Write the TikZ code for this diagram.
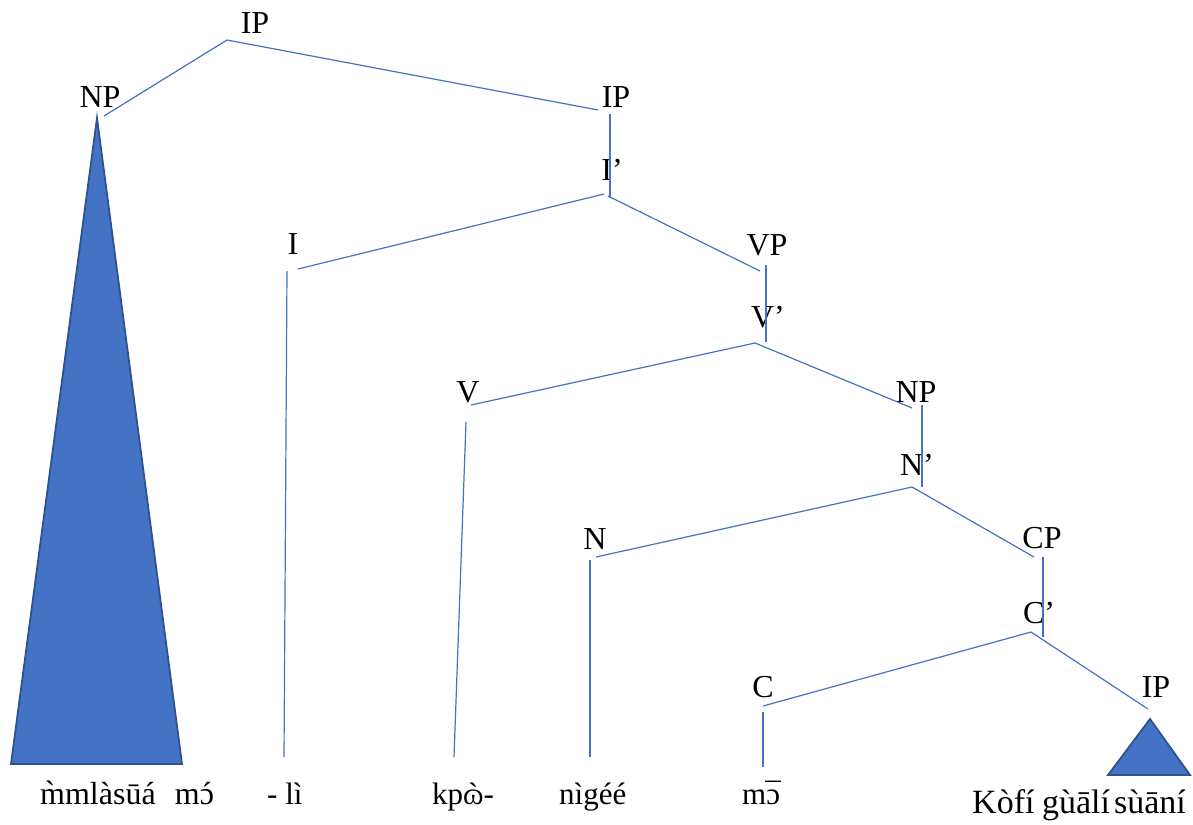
\documentclass[tikz,border=0pt]{standalone}
\usepackage{fontspec}
\setmainfont{Liberation Serif}
\definecolor{lineblue}{HTML}{4472C4}
\definecolor{edgeblue}{HTML}{2F528F}
\newcommand\accOn[2]{{\accent"#2 #1}}
\tikzset{
  lbl/.style={anchor=base, inner sep=0pt, font=\fontsize{32}{38}\selectfont},
  word/.style={anchor=base west, inner sep=0pt, font=\fontsize{31}{37}\selectfont},
  branch/.style={draw=lineblue, line width=1.2pt},
  tri/.style={fill=lineblue, draw=edgeblue, line width=1.8pt, line join=miter},
}
\begin{document}
\begin{tikzpicture}[x=1pt,y=-1pt]
\useasboundingbox (0,0) rectangle (1193,824);
% labels
\node[lbl] (ip1) at (255,34) {IP};
\node[lbl] (np1) at (100,107) {NP};
\node[lbl] (ip2) at (616,108) {IP};
\node[lbl] (ibar) at (612,180) {I’};
\node[lbl] (i) at (293,254) {I};
\node[lbl] (vp) at (767,255) {VP};
\node[lbl] (vbar) at (768,327) {V’};
\node[lbl] (v) at (468,402) {V};
\node[lbl] (np2) at (916,402) {NP};
\node[lbl] (nbar) at (917,475) {N’};
\node[lbl] (n) at (595,549) {N};
\node[lbl] (cp) at (1042,548) {CP};
\node[lbl] (cbar) at (1039,623) {C’};
\node[lbl] (c) at (763,697) {C};
\node[lbl] (ip3) at (1156,697) {IP};
% words
\node[word, font=\fontsize{32}{38}\selectfont] (w1) at (40,804) {m̀mlàsūá\hspace{0.6em}m\accOn{ɔ}{02CA}};
\node[word] (w2) at (267,804) {- lì};
\node[word] (w3) at (432,804) {kp\accOn{ɷ}{02CB}-};
\node[word] (w4) at (559,804) {nìgéé};
\node[word] (w5) at (742,804) {m\accOn{ɔ}{00AF}};
\node[word, font=\fontsize{34}{40}\selectfont] (w6) at (972,813) {Kòfí\hspace{0.22em}gùālí\hspace{0.12em}sùāní};
% branch points
\coordinate (ip1b) at (227,40);
\coordinate (np1t) at (104,116);
\coordinate (ip2t) at (598,110);
\coordinate (ip2b) at (610,114);
\coordinate (ibart) at (610,198);
\coordinate (ibarL) at (604,194);
\coordinate (ibarR) at (608,196);
\coordinate (it) at (298,269);
\coordinate (iv1) at (287,271);
\coordinate (iv2) at (284,757);
\coordinate (vpt) at (760,271);
\coordinate (vpb) at (766,265);
\coordinate (vbart) at (766,342);
\coordinate (vbarv) at (755,343);
\coordinate (vt) at (471,405);
\coordinate (vv1) at (466,422);
\coordinate (vv2) at (454,757);
\coordinate (np2t) at (912,408);
\coordinate (np2b) at (922,405);
\coordinate (nbart) at (922,487);
\coordinate (nbarv) at (912,487);
\coordinate (nt) at (596,557);
\coordinate (nv1) at (590,560);
\coordinate (nv2) at (590,757);
\coordinate (cpt) at (1034,557);
\coordinate (cpb) at (1043,557);
\coordinate (cbart) at (1043,637);
\coordinate (cbarv) at (1031,632);
\coordinate (ct) at (763,706);
\coordinate (cv1) at (763,712);
\coordinate (cv2) at (763,767);
\coordinate (ip3t) at (1148,709);
% branches
\draw[branch] (ip1b) -- (np1t);
\draw[branch] (ip1b) -- (ip2t);
\draw[branch] (ip2b) -- (ibart);
\draw[branch] (ibarL) -- (it);
\draw[branch] (ibarR) -- (vpt);
\draw[branch] (iv1) -- (iv2);
\draw[branch] (vpb) -- (vbart);
\draw[branch] (vbarv) -- (vt);
\draw[branch] (vbarv) -- (np2t);
\draw[branch] (vv1) -- (vv2);
\draw[branch] (np2b) -- (nbart);
\draw[branch] (nbarv) -- (nt);
\draw[branch] (nbarv) -- (cpt);
\draw[branch] (nv1) -- (nv2);
\draw[branch] (cpb) -- (cbart);
\draw[branch] (cbarv) -- (ct);
\draw[branch] (cbarv) -- (ip3t);
\draw[branch] (cv1) -- (cv2);
% triangles
\draw[tri] (97,118) -- (182,764) -- (11,764) -- cycle;
\draw[tri] (1150,719) -- (1190,775) -- (1108,775) -- cycle;
\end{tikzpicture}
\end{document}
